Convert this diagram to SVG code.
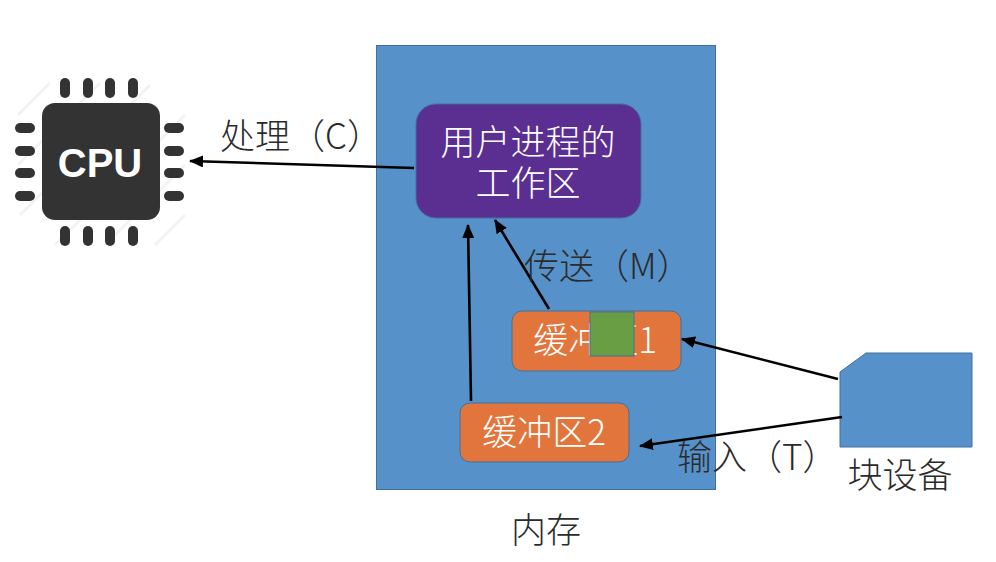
<svg xmlns="http://www.w3.org/2000/svg" width="996" height="562" viewBox="0 0 996 562">
<style>
.t{font-family:"Noto Sans CJK SC","Liberation Sans",sans-serif;font-weight:300;text-anchor:middle;font-size:35px}
.s{text-anchor:start}
.l{fill:#2b2b2b}
.w{fill:#fff}
.c{stroke:#000;stroke-width:2.6;fill:none;marker-end:url(#a)}
.b{fill:#e2753c;stroke:#41719c;stroke-width:1}
.p{fill:#333}
</style>
<defs>
<marker id="a" markerUnits="userSpaceOnUse" markerWidth="14" markerHeight="12" refX="13" refY="6" orient="auto"><path d="M0 0L14 6L0 12z" fill="#000"/></marker>
</defs>
<rect width="996" height="562" fill="#fff"/>
<g id="memory"><rect x="376.500" y="45.500" width="339" height="444" fill="#5691c9" stroke="#41719c"/><text class="t l" x="546" y="543">内存</text></g>
<g id="cpu">
<g stroke="#f3f3f3" stroke-width="3"><path d="M18 115L50 83M18 165L100 83M20 215L150 85M55 245L185 115M105 245L185 165M155 245L185 215"/></g>
<rect x="42" y="103" width="118" height="117" rx="13" class="p"/>
<g class="p">
<rect x="60" y="78" width="10" height="20" rx="5"/><rect x="83" y="78" width="10" height="20" rx="5"/><rect x="105" y="78" width="10" height="20" rx="5"/><rect x="128" y="78" width="10" height="20" rx="5"/>
<rect x="60" y="226" width="10" height="20" rx="5"/><rect x="83" y="226" width="10" height="20" rx="5"/><rect x="105" y="226" width="10" height="20" rx="5"/><rect x="128" y="226" width="10" height="20" rx="5"/>
<rect x="15" y="123" width="20" height="10" rx="5"/><rect x="15" y="146" width="20" height="10" rx="5"/><rect x="15" y="168" width="20" height="10" rx="5"/><rect x="15" y="191" width="20" height="10" rx="5"/>
<rect x="164" y="123" width="20" height="10" rx="5"/><rect x="164" y="146" width="20" height="10" rx="5"/><rect x="164" y="168" width="20" height="10" rx="5"/><rect x="164" y="191" width="20" height="10" rx="5"/>
</g>
<text x="100" y="177" font-family="Liberation Sans,sans-serif" font-weight="700" font-size="40" fill="#fff" text-anchor="middle">CPU</text>
</g>
<g id="workarea"><rect x="416" y="104" width="225" height="114" rx="20" fill="#5b2e91" stroke="#41719c"/><text class="t w"><tspan x="528" y="155">用户进程的</tspan><tspan x="528" y="196">工作区</tspan></text></g>
<g id="buffer1"><rect class="b" x="512" y="311" width="169" height="60" rx="10"/><text class="t w" x="595" y="353">缓冲区1</text><rect x="590" y="312" width="44" height="44" fill="#6a9e45" stroke="#41719c"/></g>
<g id="buffer2"><rect class="b" x="460" y="403" width="169" height="59" rx="10"/><text class="t w" x="544" y="445">缓冲区2</text></g>
<g id="device"><path d="M840 372L866 353H972V447H840z" fill="#5691c9" stroke="#41719c"/><text class="t l" x="900" y="488">块设备</text></g>
<g id="connectors">
<path class="c" d="M414 168L190 161"/>
<path class="c" d="M549 309L495 220"/>
<path class="c" d="M471 401L468 225"/>
<path class="c" d="M838 379L682 339"/>
<path class="c" d="M842 417L640 446"/>
</g>
<g id="labels">
<text class="t l s" x="220" y="149">处理（C）</text>
<text class="t l s" x="524" y="279">传送（M）</text>
<text class="t l s" x="677" y="470">输入（T）</text>
</g>
</svg>
